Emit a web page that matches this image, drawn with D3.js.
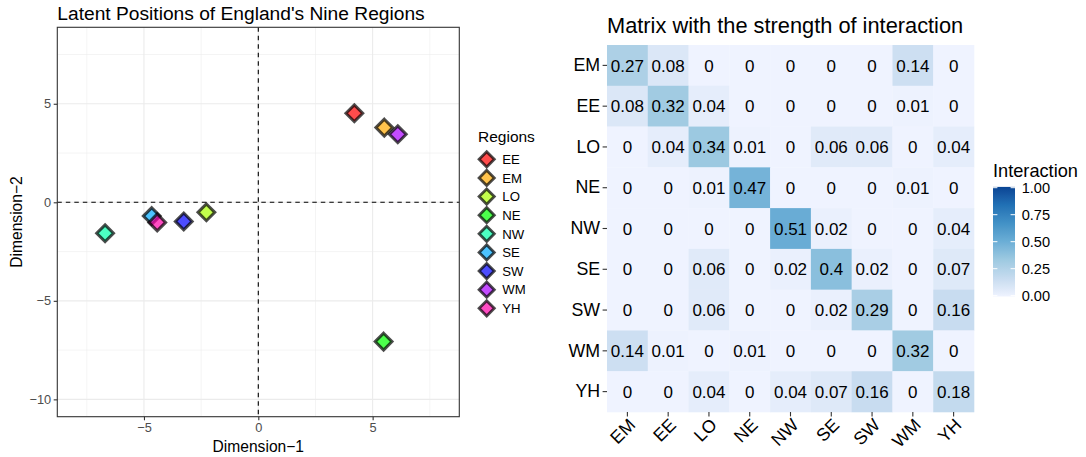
<!DOCTYPE html>
<html>
<head>
<meta charset="utf-8">
<script src="https://cdn.jsdelivr.net/npm/d3@7"></script>
<style>
  html, body { margin: 0; padding: 0; background: #ffffff; }
  svg { display: block; font-family: "Liberation Sans", Arial, sans-serif; }
</style>
</head>
<body>
<svg id="chart" width="1086" height="457"></svg>
<script>
// ---- Latent positions of the nine regions ----
const regions = ["EE", "EM", "LO", "NE", "NW", "SE", "SW", "WM", "YH"];
const dimension1 = [4.20, 5.51, -2.27, 5.48, -6.70, -4.66, -3.26, 6.10, -4.42];
const dimension2 = [4.52, 3.79, -0.51, -7.07, -1.57, -0.70, -0.97, 3.45, -1.02];
const regionColours = ["#FF0000", "#FFAA00", "#AAFF00", "#00FF00", "#00FFAA",
                       "#00AAFF", "#0000FF", "#AA00FF", "#FF00AA"];
const xTicks = [-5, 0, 5];
const yTicks = [-10, -5, 0, 5];
const xMinor = [-7.5, -2.5, 2.5, 7.5];
const yMinor = [-7.5, -2.5, 2.5, 7.5];

// ---- Interaction matrix ----
const matrixLabels = ["EM", "EE", "LO", "NE", "NW", "SE", "SW", "WM", "YH"];
const interaction = [
  [0.27, 0.08, 0,    0,    0,    0,    0,    0.14, 0   ],
  [0.08, 0.32, 0.04, 0,    0,    0,    0,    0.01, 0   ],
  [0,    0.04, 0.34, 0.01, 0,    0.06, 0.06, 0,    0.04],
  [0,    0,    0.01, 0.47, 0,    0,    0,    0.01, 0   ],
  [0,    0,    0,    0,    0.51, 0.02, 0,    0,    0.04],
  [0,    0,    0.06, 0,    0.02, 0.4,  0.02, 0,    0.07],
  [0,    0,    0.06, 0,    0,    0.02, 0.29, 0,    0.16],
  [0.14, 0.01, 0,    0.01, 0,    0,    0,    0.32, 0   ],
  [0,    0,    0.04, 0,    0.04, 0.07, 0.16, 0,    0.18]
];
const legendTicks = [0, 0.25, 0.5, 0.75, 1];
const bluesPalette = ["#EFF3FF", "#C6DBEF", "#9ECAE1", "#6BAED6", "#4292C6", "#2171B5", "#084594"];

const svg = d3.select("#chart");
const minus = d3.format("");

// =================== Scatter of latent positions ===================
const panel = { left: 57.3, right: 459.3, top: 27.3, bottom: 416.7 };
const x = d3.scaleLinear().domain([-8.79, 8.79]).range([panel.left, panel.right]);
const y = d3.scaleLinear().domain([-10.88, 8.88]).range([panel.bottom, panel.top]);

const left = svg.append("g");

left.append("rect")
  .attr("x", panel.left).attr("y", panel.top)
  .attr("width", panel.right - panel.left).attr("height", panel.bottom - panel.top)
  .attr("fill", "#ffffff");

// grid lines
const grid = left.append("g");
grid.selectAll(".vminor").data(xMinor).join("line")
  .attr("x1", d => x(d)).attr("x2", d => x(d))
  .attr("y1", panel.top).attr("y2", panel.bottom)
  .attr("stroke", "#EBEBEB").attr("stroke-width", 0.55);
grid.selectAll(".hminor").data(yMinor).join("line")
  .attr("y1", d => y(d)).attr("y2", d => y(d))
  .attr("x1", panel.left).attr("x2", panel.right)
  .attr("stroke", "#EBEBEB").attr("stroke-width", 0.55);
grid.selectAll(".vmajor").data(xTicks).join("line")
  .attr("x1", d => x(d)).attr("x2", d => x(d))
  .attr("y1", panel.top).attr("y2", panel.bottom)
  .attr("stroke", "#EBEBEB").attr("stroke-width", 1.1);
grid.selectAll(".hmajor").data(yTicks).join("line")
  .attr("y1", d => y(d)).attr("y2", d => y(d))
  .attr("x1", panel.left).attr("x2", panel.right)
  .attr("stroke", "#EBEBEB").attr("stroke-width", 1.1);

// reference lines through the origin
left.append("line")
  .attr("x1", x(0)).attr("x2", x(0)).attr("y1", panel.top).attr("y2", panel.bottom)
  .attr("stroke", "#000").attr("stroke-width", 1.1).attr("stroke-dasharray", "4.5,4");
left.append("line")
  .attr("y1", y(0)).attr("y2", y(0)).attr("x1", panel.left).attr("x2", panel.right)
  .attr("stroke", "#000").attr("stroke-width", 1.1).attr("stroke-dasharray", "4.5,4");

// diamond markers
const diamond = r => `M0,${-r}L${r},0L0,${r}L${-r},0Z`;
const points = regions.map((r, i) => ({ region: r, d1: dimension1[i], d2: dimension2[i], colour: regionColours[i] }));
left.append("g").selectAll("path").data(points).join("path")
  .attr("transform", d => `translate(${x(d.d1)},${y(d.d2)})`)
  .attr("d", diamond(8.4))
  .attr("fill", d => d.colour).attr("fill-opacity", 0.7)
  .attr("stroke", "#000").attr("stroke-opacity", 0.7).attr("stroke-width", 3)
  .attr("stroke-linejoin", "miter");

// panel border
left.append("rect")
  .attr("x", panel.left).attr("y", panel.top)
  .attr("width", panel.right - panel.left).attr("height", panel.bottom - panel.top)
  .attr("fill", "none").attr("stroke", "#333333").attr("stroke-width", 1.1);

// axes
const xAxis = d3.axisBottom(x).tickValues(xTicks).tickSizeOuter(0).tickSizeInner(3.6).tickPadding(2.5).tickFormat(minus);
const yAxis = d3.axisLeft(y).tickValues(yTicks).tickSizeOuter(0).tickSizeInner(3.6).tickPadding(2.5).tickFormat(minus);
const gx = left.append("g").attr("transform", `translate(0,${panel.bottom})`).call(xAxis);
const gy = left.append("g").attr("transform", `translate(${panel.left},0)`).call(yAxis);
[gx, gy].forEach(g => {
  g.select(".domain").remove();
  g.selectAll(".tick line").attr("stroke", "#333333").attr("stroke-width", 1.1);
  g.selectAll(".tick text").attr("fill", "#4D4D4D").style("font-size", "12.8px")
    .style("font-family", "'Liberation Sans', Arial, sans-serif");
});

left.append("text")
  .attr("x", x(0)).attr("y", 451.5).attr("text-anchor", "middle")
  .style("font-size", "15.6px").attr("fill", "#000")
  .text("Dimension\u22121");
left.append("text")
  .attr("transform", `translate(22,${(panel.top + panel.bottom) / 2}) rotate(-90)`)
  .attr("text-anchor", "middle")
  .style("font-size", "15.6px").attr("fill", "#000")
  .text("Dimension\u22122");

left.append("text")
  .attr("x", panel.left).attr("y", 20)
  .style("font-size", "19.2px").attr("fill", "#000")
  .text("Latent Positions of England's Nine Regions");

// region legend
const legend = svg.append("g");
legend.append("text")
  .attr("x", 478).attr("y", 141.5)
  .style("font-size", "15.5px").attr("fill", "#000").text("Regions");
const legendRow = d3.scaleLinear().domain([0, regions.length - 1]).range([159.3, 308.3]);
const items = legend.selectAll(".item").data(points).join("g")
  .attr("transform", (d, i) => `translate(486.7,${legendRow(i)})`);
items.append("path")
  .attr("d", diamond(7.6))
  .attr("fill", d => d.colour).attr("fill-opacity", 0.7)
  .attr("stroke", "#000").attr("stroke-opacity", 0.7).attr("stroke-width", 2.8);
items.append("text")
  .attr("x", 15.6).attr("dy", "0.36em")
  .style("font-size", "13.2px").attr("fill", "#000")
  .text(d => d.region);

// =================== Interaction heatmap ===================
const hm = { left: 607, top: 45, size: 367 };
const col = d3.scaleBand().domain(matrixLabels).range([hm.left, hm.left + hm.size]);
const row = d3.scaleBand().domain(matrixLabels).range([hm.top, hm.top + hm.size]);
const colourStops = bluesPalette.map((c, i) => i / (bluesPalette.length - 1));
const fill = d3.scaleLinear().domain(colourStops).range(bluesPalette).interpolate(d3.interpolateLab).clamp(true);

const cells = [];
interaction.forEach((vals, i) => vals.forEach((v, j) => cells.push({ r: matrixLabels[i], c: matrixLabels[j], v })));

const right = svg.append("g");
right.selectAll("rect.cell").data(cells).join("rect")
  .attr("class", "cell")
  .attr("x", d => col(d.c)).attr("y", d => row(d.r))
  .attr("width", col.bandwidth() + 0.3).attr("height", row.bandwidth() + 0.3)
  .attr("fill", d => fill(d.v));
right.selectAll("text.val").data(cells).join("text")
  .attr("class", "val")
  .attr("x", d => col(d.c) + col.bandwidth() / 2)
  .attr("y", d => row(d.r) + row.bandwidth() / 2)
  .attr("dy", "0.36em").attr("text-anchor", "middle")
  .style("font-size", "17px").attr("fill", "#000")
  .text(d => String(d.v));

const hx = d3.axisBottom(col).tickSizeOuter(0).tickSizeInner(4.4).tickPadding(2);
const hy = d3.axisLeft(row).tickSizeOuter(0).tickSizeInner(4.4).tickPadding(2.5);
const ghx = right.append("g").attr("transform", `translate(0,${hm.top + hm.size})`).call(hx);
const ghy = right.append("g").attr("transform", `translate(${hm.left},0)`).call(hy);
[ghx, ghy].forEach(g => {
  g.select(".domain").remove();
  g.selectAll(".tick line").attr("stroke", "#333333").attr("stroke-width", 1.1);
  g.selectAll(".tick text").attr("fill", "#000").style("font-size", "17.8px")
    .style("font-family", "'Liberation Sans', Arial, sans-serif");
});
ghx.selectAll(".tick text")
  .attr("text-anchor", "end")
  .attr("y", 0).attr("dy", "0.72em")
  .attr("transform", "translate(0,5) rotate(-45)");

right.append("text")
  .attr("x", hm.left).attr("y", 33.3)
  .style("font-size", "21.8px").attr("fill", "#000")
  .text("Matrix with the strength of interaction");

// colour bar
const bar = { x: 993, width: 22, top: 187.7, bottom: 295.7 };
const barY = d3.scaleLinear().domain([0, 1]).range([bar.bottom, bar.top]);
const defs = svg.append("defs");
const grad = defs.append("linearGradient").attr("id", "interactionGradient")
  .attr("x1", 0).attr("y1", 1).attr("x2", 0).attr("y2", 0);
grad.selectAll("stop").data(d3.range(0, 1.0001, 0.02)).join("stop")
  .attr("offset", d => d).attr("stop-color", d => fill(d));
const cb = svg.append("g");
cb.append("rect")
  .attr("x", bar.x).attr("y", barY(1) - 0.8)
  .attr("width", bar.width).attr("height", barY(0) - barY(1) + 1.6)
  .attr("fill", "url(#interactionGradient)");
cb.selectAll("line.l").data(legendTicks).join("line")
  .attr("x1", bar.x).attr("x2", bar.x + 4.4)
  .attr("y1", d => barY(d)).attr("y2", d => barY(d))
  .attr("stroke", "#ffffff").attr("stroke-width", 1);
cb.selectAll("line.r").data(legendTicks).join("line")
  .attr("x1", bar.x + bar.width - 4.4).attr("x2", bar.x + bar.width)
  .attr("y1", d => barY(d)).attr("y2", d => barY(d))
  .attr("stroke", "#ffffff").attr("stroke-width", 1);
cb.selectAll("text").data(legendTicks).join("text")
  .attr("x", 1021.7).attr("y", d => barY(d)).attr("dy", "0.36em")
  .style("font-size", "14.6px").attr("fill", "#000")
  .text(d => d3.format(".2f")(d));
cb.append("text")
  .attr("x", 993).attr("y", 176.7)
  .style("font-size", "18.2px").attr("fill", "#000")
  .text("Interaction");
</script>
</body>
</html>
